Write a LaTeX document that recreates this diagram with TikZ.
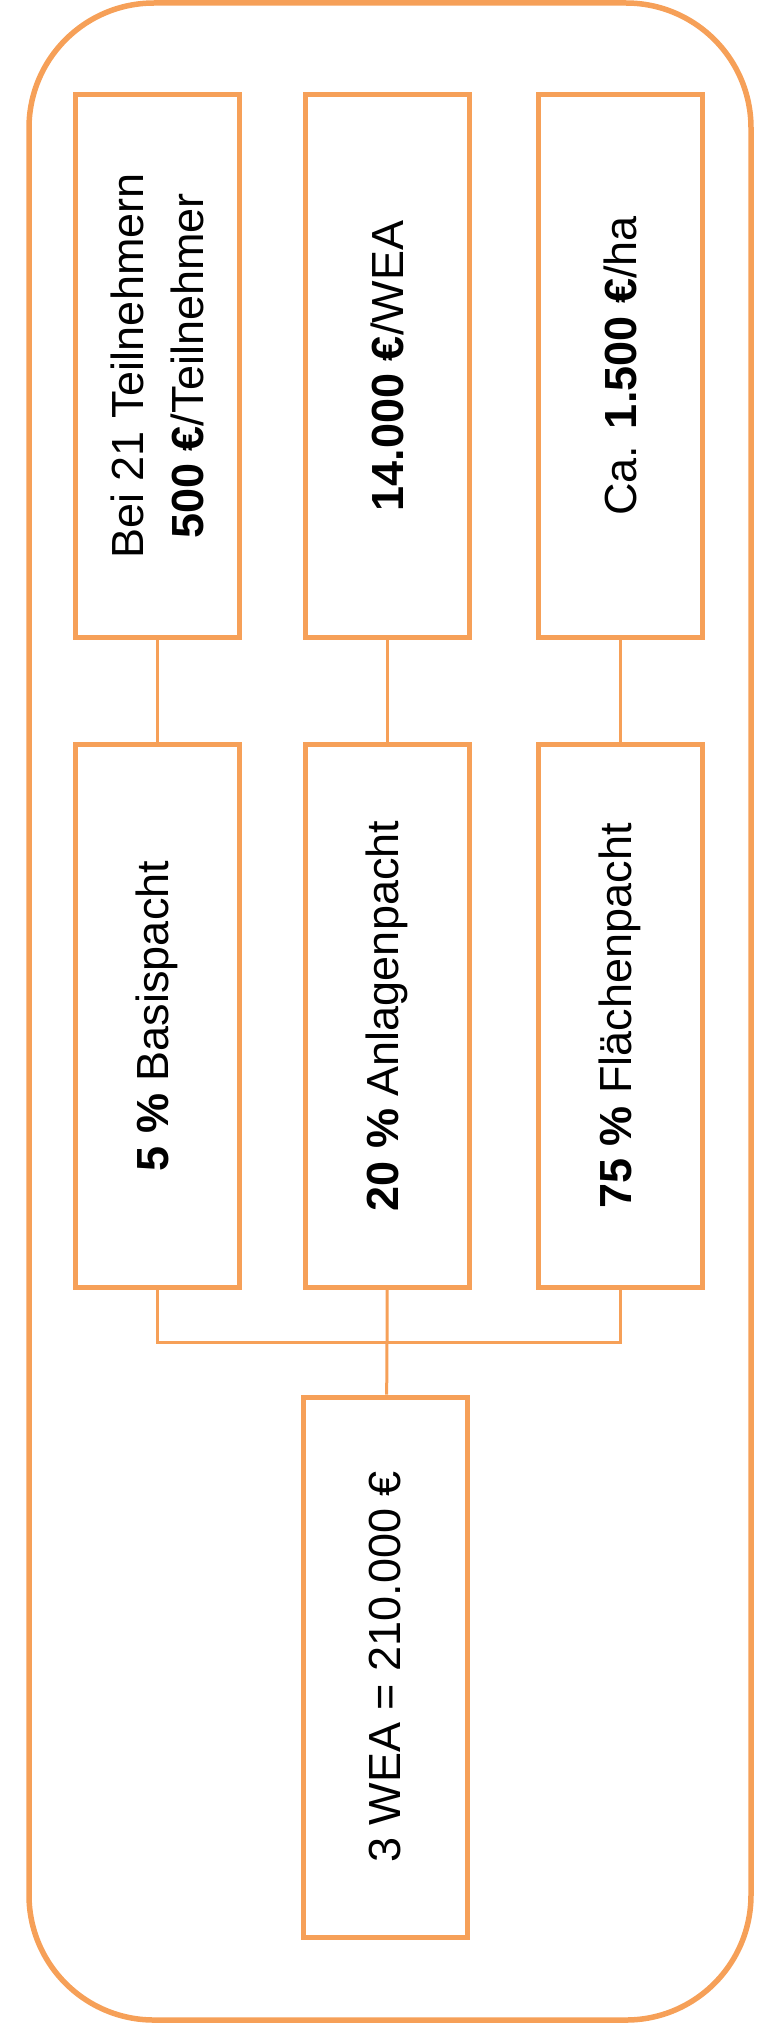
\documentclass[tikz,border=0pt]{standalone}
\usepackage{fontspec}
\setmainfont{Liberation Sans}
\usetikzlibrary{calc}

\definecolor{pachtorange}{RGB}{246,160,88}

\begin{document}
\begin{tikzpicture}[
    x=1pt, y=-1pt,
    font=\fontsize{45}{60}\selectfont,
    box/.style={draw=pachtorange, line width=5pt, rotate=90, fill=white,
               minimum width=543pt, minimum height=164pt, align=center, inner sep=0pt},
    ln/.style={draw=pachtorange, line width=3pt},
  ]
  \useasboundingbox (0,0) rectangle (766,2039);
  \draw[pachtorange, line width=5.5pt, rounded corners=125pt] (29,3) rectangle (751,2020);

  \node[box] (rate1) at (157,366) {Bei 21 Teilnehmern\\\textbf{500 €}/Teilnehmer};
  \node[box] (rate2) at (387,366) {\textbf{14.000 €}/WEA};
  \node[box] (rate3) at (620,366) {Ca. \textbf{1.500 €}/ha};

  \node[box] (basis) at (157,1016) {\textbf{5 \%} Basispacht};
  \node[box] (anlage) at (387,1016) {\textbf{20 \%} Anlagenpacht};
  \node[box] (flaeche) at (620,1016) {\textbf{75 \%} Flächenpacht};

  \node[box, minimum width=540pt] (total) at (385,1667) {3 WEA = 210.000 €};
  \coordinate (bus) at (387,1342);

  \draw[ln] (rate1) -- (basis);
  \draw[ln] (rate2) -- (anlage);
  \draw[ln] (rate3) -- (flaeche);
  \draw[ln] (basis) |- (bus) -| (flaeche);
  \draw[ln] (anlage) -- (bus) -- (total);
\end{tikzpicture}
\end{document}
